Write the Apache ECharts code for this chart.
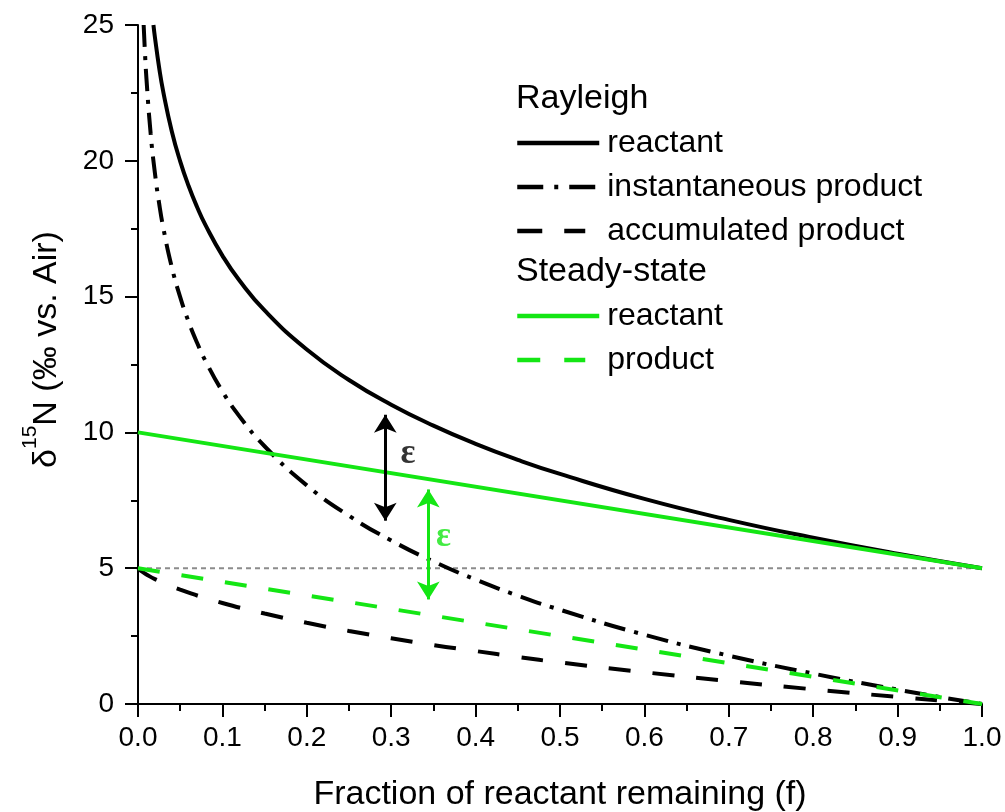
<!DOCTYPE html>
<html style="height: 100%">
  <head>
    <meta charset="UTF-8" />
    <title>Rayleigh vs steady-state</title>
    <script src="https://cdn.jsdelivr.net/npm/echarts@6/dist/echarts.min.js"></script>
  </head>
  <body style="height: 100%; margin: 0; background: #fff">
    <div id="main" style="width: 1005px; height: 812px"></div>
    <script>
      // values (f = fraction of reactant remaining)
      var fRayReactant = [0.0183, 0.02, 0.025, 0.03, 0.04, 0.05, 0.06, 0.07, 0.08, 0.1, 0.12, 0.15, 0.2, 0.25, 0.3, 0.35, 0.4, 0.45, 0.5, 0.6, 0.7, 0.8, 0.9, 1.0];
      var rayReactant = [25.0, 24.56, 23.44, 22.53, 21.09, 19.98, 19.07, 18.3, 17.63, 16.51, 15.6, 14.49, 13.05, 11.93, 11.02, 10.25, 9.58, 8.99, 8.47, 7.55, 6.78, 6.12, 5.53, 5.0];

      var fRayInst = [0.0067, 0.008, 0.01, 0.015, 0.02, 0.025, 0.03, 0.04, 0.05, 0.06, 0.07, 0.08, 0.1, 0.12, 0.15, 0.2, 0.25, 0.3, 0.35, 0.4, 0.45, 0.5, 0.6, 0.7, 0.8, 0.9, 1.0];
      var rayInstProduct = [25.0, 24.14, 23.03, 21.0, 19.56, 18.44, 17.53, 16.09, 14.98, 14.07, 13.3, 12.63, 11.51, 10.6, 9.49, 8.05, 6.93, 6.02, 5.25, 4.58, 3.99, 3.47, 2.55, 1.78, 1.12, 0.53, 0];

      var fRayAcc = [0, 0.005, 0.01, 0.02, 0.05, 0.1, 0.15, 0.2, 0.25, 0.3, 0.35, 0.4, 0.45, 0.5, 0.6, 0.7, 0.8, 0.9, 0.95, 1.0];
      var rayAccProduct = [5, 4.87, 4.77, 4.6, 4.21, 3.72, 3.33, 2.99, 2.69, 2.42, 2.17, 1.95, 1.73, 1.53, 1.17, 0.84, 0.54, 0.26, 0.13, 0];

      var fSteady = [0, 1];
      var ssReactant = [10, 5];
      var ssProduct = [5, 0];

      var refLine = [5, 5];

      // double arrows marking epsilon: [f, low, high]
      var arrowBlack = [0.293, 6.75, 10.65];
      var arrowGreen = [0.344, 3.85, 7.9];
      // epsilon labels: [f, value]
      var epsBlack = [0.32, 9.2];
      var epsGreen = [0.362, 6.15];

      var legendNames = {
        rayR: 'reactant',
        rayI: 'instantaneous product',
        rayA: 'accumulated product',
        ssR: 'reactant',
        ssP: 'product',
      };

      var GREEN = '#14e614';
      var FONT = 'Liberation Sans, Arial, sans-serif';

      function pairs(xs, ys) {
        return xs.map(function (x, i) {
          return [x, ys[i]];
        });
      }

      var chart = echarts.init(document.getElementById('main'));

      var headerStyle = { fontSize: 34, fontWeight: 'normal', color: '#000', fontFamily: FONT };
      var legendBase = {
        orient: 'vertical',
        left: 515,
        padding: 0,
        itemWidth: 82,
        itemHeight: 14,
        itemGap: 12,
        selectedMode: false,
        itemStyle: { opacity: 0 },
        lineStyle: { width: 4.5 },
        formatter: function (n) {
          return legendNames[n];
        },
        textStyle: { fontSize: 32, lineHeight: 31, color: '#000', fontFamily: FONT, padding: [0, 0, 0, 3] },
      };

      var option = {
        animation: false,
        backgroundColor: '#fff',
        textStyle: { fontFamily: FONT },
        grid: { left: 138, right: 23, top: 25, bottom: 108, outerBoundsMode: 'none' },
        title: [
          { text: 'Rayleigh', left: 516, top: 82, padding: 0, textStyle: headerStyle },
          { text: 'Steady-state', left: 516, top: 255, padding: 0, textStyle: headerStyle },
        ],
        legend: [
          Object.assign({}, legendBase, {
            top: 127,
            data: [
              { name: 'rayR' },
              { name: 'rayI', lineStyle: { type: [26, 11, 4, 11] } },
              { name: 'rayA', lineStyle: { type: [25, 22, 21, 50] } },
            ],
          }),
          Object.assign({}, legendBase, {
            top: 300,
            data: [{ name: 'ssR' }, { name: 'ssP', lineStyle: { type: [23, 24, 21, 50] } }],
          }),
        ],
        xAxis: {
          type: 'value',
          min: 0,
          max: 1,
          interval: 0.1,
          name: 'Fraction of reactant remaining (f)',
          nameLocation: 'middle',
          nameGap: 74,
          nameTextStyle: { fontSize: 34, color: '#000', fontFamily: FONT },
          axisLine: { lineStyle: { color: '#000', width: 2 } },
          axisTick: { length: 13, lineStyle: { color: '#000', width: 2 } },
          minorTick: { show: true, splitNumber: 2, length: 7, lineStyle: { color: '#000', width: 2 } },
          splitLine: { show: false },
          axisLabel: {
            fontSize: 28,
            color: '#000',
            margin: 20,
            formatter: function (v) {
              return v.toFixed(1);
            },
          },
        },
        yAxis: {
          type: 'value',
          min: 0,
          max: 25,
          interval: 5,
          name: '{d|δ}{s|15}{d|N (‰ vs. Air)}',
          nameLocation: 'middle',
          nameGap: 65,
          nameTextStyle: {
            color: '#000',
            padding: [0, 0, 0, 30],
            rich: {
              d: { fontSize: 34, fontFamily: FONT, color: '#000' },
              s: { fontSize: 21, fontFamily: FONT, color: '#000', padding: [0, 0, 32, 0] },
            },
          },
          axisLine: { show: true, lineStyle: { color: '#000', width: 2 } },
          axisTick: { show: true, length: 13, lineStyle: { color: '#000', width: 2 } },
          minorTick: { show: true, splitNumber: 2, length: 7, lineStyle: { color: '#000', width: 2 } },
          splitLine: { show: false },
          axisLabel: { fontSize: 28, color: '#000', margin: 24 },
        },
        series: [
          {
            name: 'ref',
            type: 'line',
            silent: true,
            symbol: 'none',
            data: pairs([0, 1], refLine),
            lineStyle: { color: '#8c8c8c', width: 2, type: [5, 4] },
            z: 1,
          },
          {
            name: 'rayR',
            type: 'line',
            symbol: 'none',
            smooth: true,
            data: pairs(fRayReactant, rayReactant),
            lineStyle: { color: '#000', width: 4 },
            itemStyle: { color: '#000' },
          },
          {
            name: 'rayI',
            type: 'line',
            symbol: 'none',
            smooth: true,
            data: pairs(fRayInst, rayInstProduct),
            lineStyle: { color: '#000', width: 4, type: [22, 9, 4, 9] },
            itemStyle: { color: '#000' },
          },
          {
            name: 'rayA',
            type: 'line',
            symbol: 'none',
            smooth: true,
            data: pairs(fRayAcc, rayAccProduct),
            lineStyle: { color: '#000', width: 4, type: [22, 22] },
            itemStyle: { color: '#000' },
          },
          {
            name: 'ssR',
            type: 'line',
            symbol: 'none',
            data: pairs(fSteady, ssReactant),
            lineStyle: { color: GREEN, width: 4 },
            itemStyle: { color: GREEN },
          },
          {
            name: 'ssP',
            type: 'line',
            symbol: 'none',
            data: pairs(fSteady, ssProduct),
            lineStyle: { color: GREEN, width: 4, type: [22, 22] },
            itemStyle: { color: GREEN },
          },
          {
            name: 'eps',
            type: 'scatter',
            silent: true,
            symbolSize: 1,
            itemStyle: { color: 'rgba(0,0,0,0)' },
            data: [
              { value: epsBlack, label: { color: '#000' } },
              { value: epsGreen, label: { color: GREEN } },
            ],
            label: {
              show: true,
              position: 'inside',
              formatter: 'ε',
              fontSize: 35,
              fontWeight: 'bold',
              fontFamily: 'Liberation Serif, DejaVu Serif, serif',
            },
            markLine: {
              silent: true,
              symbol: ['arrow', 'arrow'],
              symbolSize: [17, 18],
              label: { show: false },
              data: [
                [
                  { coord: [arrowBlack[0], arrowBlack[1]], lineStyle: { color: '#000', width: 3, type: 'solid' } },
                  { coord: [arrowBlack[0], arrowBlack[2]] },
                ],
                [
                  { coord: [arrowGreen[0], arrowGreen[1]], lineStyle: { color: GREEN, width: 3, type: 'solid' } },
                  { coord: [arrowGreen[0], arrowGreen[2]] },
                ],
              ],
            },
          },
        ],
      };

      chart.setOption(option);
    </script>
  </body>
</html>
